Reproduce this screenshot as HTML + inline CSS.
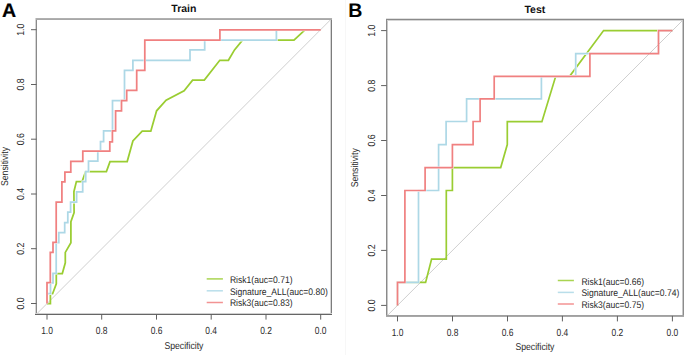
<!DOCTYPE html>
<html><head><meta charset="utf-8"><style>
html,body{margin:0;padding:0;background:#fff;}
svg{display:block;}
text{font-family:"Liberation Sans",sans-serif;}
.t{font-size:9.9px;fill:#2a2a2a;}
.tk{font-size:10.3px;fill:#2a2a2a;}
.lg{font-size:9.6px;fill:#2a2a2a;}
.ti{font-size:10.5px;font-weight:bold;fill:#111;}
.pl{font-size:19.6px;font-weight:bold;fill:#000;}
</style></head><body>
<svg text-rendering="geometricPrecision" width="685" height="355" viewBox="0 0 685 355" xmlns="http://www.w3.org/2000/svg">
<rect width="685" height="355" fill="#fff"/>
<line x1="345.5" y1="0" x2="345.5" y2="355" stroke="#f7f7f7" stroke-width="1"/>
<line x1="36.1" y1="314.5" x2="331.6" y2="18.7" stroke="#cfcfcf" stroke-width="1"/>
<defs><mask id="mgTrain" maskUnits="userSpaceOnUse" x="0" y="0" width="685" height="355"><rect width="685" height="355" fill="#fff"/><polyline points="47.0,303.5 47.0,293.7 50.5,293.7 50.5,282.8 53.0,282.8 53.0,273.3 56.2,273.3 56.2,242.5 58.8,242.5 58.8,232.6 64.7,232.6 64.7,222.6 67.8,222.6 67.8,212.2 70.6,212.2 70.6,202.2 76.6,202.2 76.6,191.8 82.7,191.8 82.7,181.6 85.7,181.6 85.7,171.5 88.5,171.5 88.5,161.2 97.8,161.2 97.8,151.1 100.5,151.1 100.5,141.6 103.6,141.6 103.6,130.9 112.5,130.9 112.5,100.7 124.5,100.7 124.5,70.4 132.9,70.4 132.9,60.3 190.0,60.3 190.0,49.9 204.7,49.9 204.7,40.2 276.4,40.2 276.4,29.9 320.7,29.9" fill="none" stroke="#000" stroke-width="2.45"/><polyline points="47.0,303.5 47.0,282.7 50.3,282.7 50.3,252.4 53.0,252.4 53.0,242.4 56.2,242.4 56.2,202.2 61.9,202.2 61.9,181.8 64.9,181.8 64.9,172.0 70.8,172.0 70.8,161.4 82.8,161.4 82.8,151.1 109.8,151.1 109.8,141.8 112.4,141.8 112.4,130.9 115.6,130.9 115.6,110.9 121.5,110.9 121.5,100.6 126.7,100.6 126.7,90.3 136.7,90.3 136.7,70.4 144.8,70.4 144.8,40.0 219.9,40.0 219.9,29.8 320.7,29.8" fill="none" stroke="#000" stroke-width="2.45"/></mask><mask id="mbTrain" maskUnits="userSpaceOnUse" x="0" y="0" width="685" height="355"><rect width="685" height="355" fill="#fff"/><polyline points="47.0,303.5 47.0,282.7 50.3,282.7 50.3,252.4 53.0,252.4 53.0,242.4 56.2,242.4 56.2,202.2 61.9,202.2 61.9,181.8 64.9,181.8 64.9,172.0 70.8,172.0 70.8,161.4 82.8,161.4 82.8,151.1 109.8,151.1 109.8,141.8 112.4,141.8 112.4,130.9 115.6,130.9 115.6,110.9 121.5,110.9 121.5,100.6 126.7,100.6 126.7,90.3 136.7,90.3 136.7,70.4 144.8,70.4 144.8,40.0 219.9,40.0 219.9,29.8 320.7,29.8" fill="none" stroke="#000" stroke-width="2.45"/></mask></defs>
<polyline points="47.0,303.5 50.4,303.5 50.4,293.7 52.6,293.7 56.3,283.8 56.3,273.5 62.3,273.5 65.3,262.8 65.3,252.4 70.9,242.7 70.9,221.6 74.1,212.5 73.9,191.7 76.4,181.6 82.1,181.6 85.6,171.5 106.4,171.5 110.0,161.6 127.2,161.6 132.9,140.9 142.2,131.2 150.8,131.2 156.6,110.8 166.1,100.2 184.1,90.7 192.6,80.1 204.3,80.1 219.8,60.3 228.4,60.3 234.5,49.9 242.5,40.2 294.0,40.2 305.0,29.9 320.7,29.9" fill="none" stroke="#9ACD32" stroke-width="1.75" mask="url(#mgTrain)"/>
<polyline points="47.0,303.5 47.0,293.7 50.5,293.7 50.5,282.8 53.0,282.8 53.0,273.3 56.2,273.3 56.2,242.5 58.8,242.5 58.8,232.6 64.7,232.6 64.7,222.6 67.8,222.6 67.8,212.2 70.6,212.2 70.6,202.2 76.6,202.2 76.6,191.8 82.7,191.8 82.7,181.6 85.7,181.6 85.7,171.5 88.5,171.5 88.5,161.2 97.8,161.2 97.8,151.1 100.5,151.1 100.5,141.6 103.6,141.6 103.6,130.9 112.5,130.9 112.5,100.7 124.5,100.7 124.5,70.4 132.9,70.4 132.9,60.3 190.0,60.3 190.0,49.9 204.7,49.9 204.7,40.2 276.4,40.2 276.4,29.9 320.7,29.9" fill="none" stroke="#ADD8E6" stroke-width="1.75" mask="url(#mbTrain)"/>
<polyline points="47.0,303.5 47.0,282.7 50.3,282.7 50.3,252.4 53.0,252.4 53.0,242.4 56.2,242.4 56.2,202.2 61.9,202.2 61.9,181.8 64.9,181.8 64.9,172.0 70.8,172.0 70.8,161.4 82.8,161.4 82.8,151.1 109.8,151.1 109.8,141.8 112.4,141.8 112.4,130.9 115.6,130.9 115.6,110.9 121.5,110.9 121.5,100.6 126.7,100.6 126.7,90.3 136.7,90.3 136.7,70.4 144.8,70.4 144.8,40.0 219.9,40.0 219.9,29.8 320.7,29.8" fill="none" stroke="#F08080" stroke-width="1.75"/>
<rect x="35" y="18" width="1" height="297" fill="#d5d5d5"/>
<rect x="36" y="18" width="1" height="297" fill="#8a8a8a"/>
<rect x="330" y="18" width="1" height="297" fill="#d5d5d5"/>
<rect x="331" y="18" width="1" height="297" fill="#7c7c7c"/>
<rect x="36" y="18" width="296" height="1" fill="#b0b0b0"/>
<rect x="36" y="19" width="296" height="1" fill="#a8a8a8"/>
<rect x="35" y="313" width="297" height="1" fill="#d0d0d0"/>
<rect x="35" y="314" width="297" height="1" fill="#666666"/>
<line x1="320.7" y1="314.1" x2="320.7" y2="319.6" stroke="#606060" stroke-width="1"/>
<text transform="translate(320.7,334.1) scale(0.82,1)" class="tk" text-anchor="middle">0.0</text>
<line x1="31.0" y1="303.5" x2="36.5" y2="303.5" stroke="#606060" stroke-width="1"/>
<text transform="translate(24.0,303.5) rotate(-90) scale(0.85,1)" class="tk" text-anchor="middle">0.0</text>
<line x1="266.0" y1="314.1" x2="266.0" y2="319.6" stroke="#606060" stroke-width="1"/>
<text transform="translate(266.0,334.1) scale(0.82,1)" class="tk" text-anchor="middle">0.2</text>
<line x1="31.0" y1="248.7" x2="36.5" y2="248.7" stroke="#606060" stroke-width="1"/>
<text transform="translate(24.0,248.7) rotate(-90) scale(0.85,1)" class="tk" text-anchor="middle">0.2</text>
<line x1="211.2" y1="314.1" x2="211.2" y2="319.6" stroke="#606060" stroke-width="1"/>
<text transform="translate(211.2,334.1) scale(0.82,1)" class="tk" text-anchor="middle">0.4</text>
<line x1="31.0" y1="194.0" x2="36.5" y2="194.0" stroke="#606060" stroke-width="1"/>
<text transform="translate(24.0,194.0) rotate(-90) scale(0.85,1)" class="tk" text-anchor="middle">0.4</text>
<line x1="156.5" y1="314.1" x2="156.5" y2="319.6" stroke="#606060" stroke-width="1"/>
<text transform="translate(156.5,334.1) scale(0.82,1)" class="tk" text-anchor="middle">0.6</text>
<line x1="31.0" y1="139.2" x2="36.5" y2="139.2" stroke="#606060" stroke-width="1"/>
<text transform="translate(24.0,139.2) rotate(-90) scale(0.85,1)" class="tk" text-anchor="middle">0.6</text>
<line x1="101.7" y1="314.1" x2="101.7" y2="319.6" stroke="#606060" stroke-width="1"/>
<text transform="translate(101.7,334.1) scale(0.82,1)" class="tk" text-anchor="middle">0.8</text>
<line x1="31.0" y1="84.5" x2="36.5" y2="84.5" stroke="#606060" stroke-width="1"/>
<text transform="translate(24.0,84.5) rotate(-90) scale(0.85,1)" class="tk" text-anchor="middle">0.8</text>
<line x1="47.0" y1="314.1" x2="47.0" y2="319.6" stroke="#606060" stroke-width="1"/>
<text transform="translate(47.0,334.1) scale(0.82,1)" class="tk" text-anchor="middle">1.0</text>
<line x1="31.0" y1="29.7" x2="36.5" y2="29.7" stroke="#606060" stroke-width="1"/>
<text transform="translate(24.0,29.7) rotate(-90) scale(0.85,1)" class="tk" text-anchor="middle">1.0</text>
<text x="183.9" y="11.7" class="ti" text-anchor="middle">Train</text>
<text transform="translate(183.9,348.9) scale(0.878,1)" class="t" text-anchor="middle">Specificity</text>
<text transform="translate(7.5,166.5) rotate(-90) scale(0.878,1)" class="t" text-anchor="middle">Sensitivity</text>
<line x1="206.7" y1="278.9" x2="222.9" y2="278.9" stroke="#9ACD32" stroke-width="1.5" stroke-opacity="0.85"/>
<text transform="translate(229.9,283.3) scale(0.893,1)" class="lg">Risk1(auc=0.71)</text>
<line x1="206.7" y1="290.8" x2="222.9" y2="290.8" stroke="#ADD8E6" stroke-width="1.5" stroke-opacity="0.85"/>
<text transform="translate(229.9,294.9) scale(0.893,1)" class="lg">Signature_ALL(auc=0.80)</text>
<line x1="206.7" y1="302.5" x2="222.9" y2="302.5" stroke="#F08080" stroke-width="1.5" stroke-opacity="0.85"/>
<text transform="translate(229.9,306.4) scale(0.893,1)" class="lg">Risk3(auc=0.83)</text>
<line x1="386.5" y1="316.4" x2="683.4" y2="19.6" stroke="#cfcfcf" stroke-width="1"/>
<defs><mask id="mgTest" maskUnits="userSpaceOnUse" x="0" y="0" width="685" height="355"><rect width="685" height="355" fill="#fff"/><polyline points="397.5,305.4 397.5,282.4 418.5,282.4 418.5,190.5 438.6,190.5 438.6,144.6 446.1,144.6 446.1,121.5 466.6,121.5 466.6,98.9 541.4,98.9 541.4,76.3 575.7,76.3 575.7,53.7 658.5,53.7 658.5,30.6 672.4,30.6" fill="none" stroke="#000" stroke-width="2.4"/><polyline points="397.5,305.4 397.5,282.4 404.9,282.4 404.9,190.5 425.1,190.5 425.1,167.6 452.4,167.6 452.4,144.6 473.1,144.6 473.1,121.5 480.1,121.5 480.1,98.9 494.2,98.9 494.2,76.3 589.9,76.3 589.9,53.7 658.5,53.7 658.5,30.6 672.4,30.6" fill="none" stroke="#000" stroke-width="2.4"/></mask><mask id="mbTest" maskUnits="userSpaceOnUse" x="0" y="0" width="685" height="355"><rect width="685" height="355" fill="#fff"/><polyline points="397.5,305.4 397.5,282.4 404.9,282.4 404.9,190.5 425.1,190.5 425.1,167.6 452.4,167.6 452.4,144.6 473.1,144.6 473.1,121.5 480.1,121.5 480.1,98.9 494.2,98.9 494.2,76.3 589.9,76.3 589.9,53.7 658.5,53.7 658.5,30.6 672.4,30.6" fill="none" stroke="#000" stroke-width="2.4"/></mask></defs>
<polyline points="397.5,305.4 397.5,282.4 425.6,282.4 431.6,259.1 446.3,259.1 446.3,190.5 452.4,190.5 452.4,167.6 500.7,167.6 507.3,144.6 507.3,121.7 541.9,121.7 555.7,76.3 569.6,76.3 603.6,30.6 672.4,30.6" fill="none" stroke="#9ACD32" stroke-width="1.7" mask="url(#mgTest)"/>
<polyline points="397.5,305.4 397.5,282.4 418.5,282.4 418.5,190.5 438.6,190.5 438.6,144.6 446.1,144.6 446.1,121.5 466.6,121.5 466.6,98.9 541.4,98.9 541.4,76.3 575.7,76.3 575.7,53.7 658.5,53.7 658.5,30.6 672.4,30.6" fill="none" stroke="#ADD8E6" stroke-width="1.7" mask="url(#mbTest)"/>
<polyline points="397.5,305.4 397.5,282.4 404.9,282.4 404.9,190.5 425.1,190.5 425.1,167.6 452.4,167.6 452.4,144.6 473.1,144.6 473.1,121.5 480.1,121.5 480.1,98.9 494.2,98.9 494.2,76.3 589.9,76.3 589.9,53.7 658.5,53.7 658.5,30.6 672.4,30.6" fill="none" stroke="#F08080" stroke-width="1.7"/>
<rect x="386" y="19" width="1" height="298" fill="#8a8a8a"/>
<rect x="387" y="20" width="1" height="296" fill="#c8c8c8"/>
<rect x="682" y="18" width="1" height="299" fill="#c8c8c8"/>
<rect x="683" y="18" width="1" height="299" fill="#8c8c8c"/>
<rect x="386" y="18" width="298" height="1" fill="#e0e0e0"/>
<rect x="386" y="19" width="298" height="1" fill="#8a8a8a"/>
<rect x="387" y="20" width="295" height="1" fill="#d5d5d5"/>
<rect x="386" y="315" width="298" height="1" fill="#a0a0a0"/>
<rect x="386" y="316" width="298" height="1" fill="#a8a8a8"/>
<line x1="672.4" y1="315.9" x2="672.4" y2="321.4" stroke="#606060" stroke-width="1"/>
<text transform="translate(672.4,335.6) scale(0.82,1)" class="tk" text-anchor="middle">0.0</text>
<line x1="381.1" y1="305.4" x2="386.6" y2="305.4" stroke="#606060" stroke-width="1"/>
<text transform="translate(374.5,305.4) rotate(-90) scale(0.85,1)" class="tk" text-anchor="middle">0.0</text>
<line x1="617.4" y1="315.9" x2="617.4" y2="321.4" stroke="#606060" stroke-width="1"/>
<text transform="translate(617.4,335.6) scale(0.82,1)" class="tk" text-anchor="middle">0.2</text>
<line x1="381.1" y1="250.4" x2="386.6" y2="250.4" stroke="#606060" stroke-width="1"/>
<text transform="translate(374.5,250.4) rotate(-90) scale(0.85,1)" class="tk" text-anchor="middle">0.2</text>
<line x1="562.4" y1="315.9" x2="562.4" y2="321.4" stroke="#606060" stroke-width="1"/>
<text transform="translate(562.4,335.6) scale(0.82,1)" class="tk" text-anchor="middle">0.4</text>
<line x1="381.1" y1="195.5" x2="386.6" y2="195.5" stroke="#606060" stroke-width="1"/>
<text transform="translate(374.5,195.5) rotate(-90) scale(0.85,1)" class="tk" text-anchor="middle">0.4</text>
<line x1="507.5" y1="315.9" x2="507.5" y2="321.4" stroke="#606060" stroke-width="1"/>
<text transform="translate(507.5,335.6) scale(0.82,1)" class="tk" text-anchor="middle">0.6</text>
<line x1="381.1" y1="140.5" x2="386.6" y2="140.5" stroke="#606060" stroke-width="1"/>
<text transform="translate(374.5,140.5) rotate(-90) scale(0.85,1)" class="tk" text-anchor="middle">0.6</text>
<line x1="452.5" y1="315.9" x2="452.5" y2="321.4" stroke="#606060" stroke-width="1"/>
<text transform="translate(452.5,335.6) scale(0.82,1)" class="tk" text-anchor="middle">0.8</text>
<line x1="381.1" y1="85.6" x2="386.6" y2="85.6" stroke="#606060" stroke-width="1"/>
<text transform="translate(374.5,85.6) rotate(-90) scale(0.85,1)" class="tk" text-anchor="middle">0.8</text>
<line x1="397.5" y1="315.9" x2="397.5" y2="321.4" stroke="#606060" stroke-width="1"/>
<text transform="translate(397.5,335.6) scale(0.82,1)" class="tk" text-anchor="middle">1.0</text>
<line x1="381.1" y1="30.6" x2="386.6" y2="30.6" stroke="#606060" stroke-width="1"/>
<text transform="translate(374.5,30.6) rotate(-90) scale(0.85,1)" class="tk" text-anchor="middle">1.0</text>
<text x="534.9" y="12.6" class="ti" text-anchor="middle">Test</text>
<text transform="translate(534.9,350.4) scale(0.878,1)" class="t" text-anchor="middle">Specificity</text>
<text transform="translate(358.0,167.8) rotate(-90) scale(0.878,1)" class="t" text-anchor="middle">Sensitivity</text>
<line x1="557.8" y1="280.5" x2="573.9" y2="280.5" stroke="#9ACD32" stroke-width="1.5" stroke-opacity="0.85"/>
<text transform="translate(581.4,284.8) scale(0.893,1)" class="lg">Risk1(auc=0.66)</text>
<line x1="557.8" y1="292.4" x2="573.9" y2="292.4" stroke="#ADD8E6" stroke-width="1.5" stroke-opacity="0.85"/>
<text transform="translate(581.4,296.3) scale(0.893,1)" class="lg">Signature_ALL(auc=0.74)</text>
<line x1="557.8" y1="304.0" x2="573.9" y2="304.0" stroke="#F08080" stroke-width="1.5" stroke-opacity="0.85"/>
<text transform="translate(581.4,307.9) scale(0.893,1)" class="lg">Risk3(auc=0.75)</text>
<text x="2.1" y="16.9" class="pl" style="stroke:#000;stroke-width:0.2px">A</text>
<text x="348.3" y="17" class="pl">B</text>
</svg>
</body></html>
